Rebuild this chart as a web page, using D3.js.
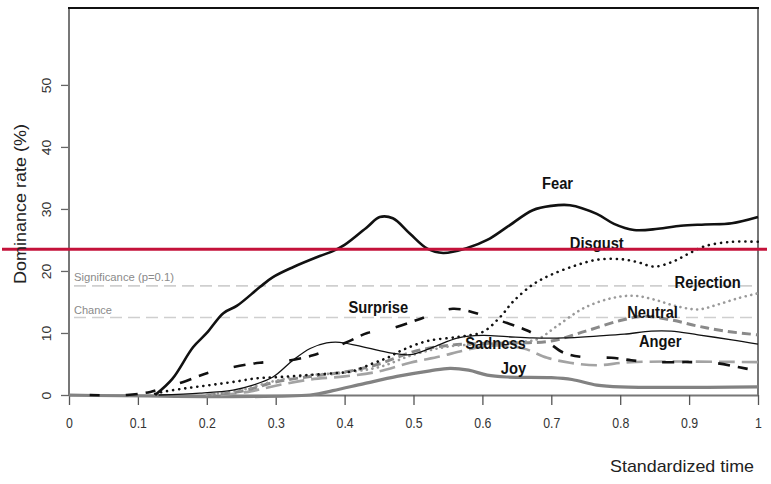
<!DOCTYPE html>
<html>
<head>
<meta charset="utf-8">
<script src="https://cdn.jsdelivr.net/npm/d3@7/dist/d3.min.js"></script>
<style>
  body { margin: 0; background: #fff; }
  svg { display: block; }
  text { font-family: "Liberation Sans", Arial, sans-serif; }
</style>
</head>
<body>
<svg id="chart" width="771" height="484"></svg>
<script>
// values: [standardized time, dominance rate %]
const fear = [[0.125,0],[0.15,2.6],[0.18,7.7],[0.2,10],[0.224,13.2],[0.244,14.4],[0.277,17.4],[0.296,19],[0.325,20.6],[0.364,22.4],[0.383,23.2],[0.4,24.2],[0.433,27.1],[0.451,28.7],[0.47,28.5],[0.495,26],[0.52,23.6],[0.543,22.9],[0.578,23.7],[0.607,25],[0.636,27.1],[0.673,29.8],[0.7,30.5],[0.727,30.6],[0.766,29.2],[0.791,27.6],[0.82,26.6],[0.855,26.8],[0.888,27.3],[0.923,27.5],[0.962,27.7],[1,28.7]];
const disgust = [[0.125,0.2],[0.136,0.5],[0.171,1.1],[0.205,1.6],[0.238,2.1],[0.273,2.7],[0.306,2.9],[0.345,3.2],[0.383,3.5],[0.41,3.8],[0.441,5.1],[0.462,6],[0.485,7.3],[0.52,8.7],[0.567,9.4],[0.601,10.2],[0.626,12.6],[0.644,15],[0.673,17.8],[0.698,19.3],[0.733,20.8],[0.766,21.8],[0.801,21.9],[0.826,21.4],[0.849,20.7],[0.874,21.4],[0.898,22.7],[0.923,24],[0.962,24.7],[1,24.7]];
const surprise = [[0.03,0],[0.084,0],[0.118,0.5],[0.142,1.3],[0.166,2.1],[0.2,3.5],[0.238,4.5],[0.277,5.2],[0.316,5.5],[0.354,6.4],[0.383,7.6],[0.405,8.6],[0.433,10],[0.47,10.8],[0.505,12.1],[0.538,13.4],[0.557,13.9],[0.578,13.6],[0.607,12.6],[0.636,11.6],[0.665,10.4],[0.694,8.6],[0.718,6.8],[0.747,6.1],[0.787,6],[0.816,5.6],[0.845,5.3],[0.903,5.3],[0.942,5.1],[0.971,4.5],[1,3.9]];
const anger = [[0.13,0],[0.19,0.3],[0.238,0.8],[0.267,1.6],[0.296,2.9],[0.325,5.6],[0.35,7.5],[0.374,8.4],[0.393,8.5],[0.433,7.6],[0.466,6.8],[0.495,6.5],[0.526,7.6],[0.565,9.2],[0.6,9.6],[0.636,9.4],[0.673,9.2],[0.718,9.2],[0.766,9.5],[0.806,9.8],[0.845,10.3],[0.874,10.3],[0.913,9.7],[0.962,8.9],[1,8.2]];
const joy = [[0,0],[0.35,0],[0.383,0.7],[0.427,1.8],[0.476,3],[0.524,3.9],[0.553,4.3],[0.58,4],[0.607,3.2],[0.636,2.9],[0.7,2.8],[0.73,2.5],[0.766,1.6],[0.8,1.3],[1,1.3]];
const neutral = [[0.2,0],[0.25,0.6],[0.3,2.1],[0.35,3],[0.4,3.7],[0.45,5],[0.5,7],[0.55,8],[0.6,8.3],[0.65,8.4],[0.7,8.7],[0.75,10.3],[0.8,12],[0.835,12.7],[0.874,12.1],[0.913,11.1],[0.952,10.3],[1,9.7]];
const rejection = [[0.2,0],[0.25,0.8],[0.3,2.3],[0.35,3.2],[0.4,3.6],[0.45,4.5],[0.5,6.5],[0.55,7.8],[0.6,8.2],[0.65,8.5],[0.68,9],[0.708,11.1],[0.747,14],[0.787,15.6],[0.82,16],[0.849,15.4],[0.879,14.4],[0.913,13.8],[0.942,14.6],[0.971,15.6],[1,16.4]];
const sadness = [[0.22,0],[0.26,0.5],[0.3,1.5],[0.35,2.5],[0.4,3],[0.45,3.8],[0.495,5.2],[0.538,6.2],[0.57,7.1],[0.6,7.8],[0.626,8],[0.66,7.5],[0.694,6],[0.727,5.2],[0.766,4.8],[0.816,5.3],[1,5.3]];

const xTicks = [0, 0.1, 0.2, 0.3, 0.4, 0.5, 0.6, 0.7, 0.8, 0.9, 1];
const xTickLabels = ["0", "0.1", "0.2", "0.3", "0.4", "0.5", "0.6", "0.7", "0.8", "0.9", "1"];
const yTicks = [0, 10, 20, 30, 40, 50];

const threshold = 23.5;     // red line
const significance = 17.6;  // p = 0.1
const chance = 12.5;

const svg = d3.select("#chart");

const x = d3.scaleLinear().domain([0, 1]).range([69, 758]);
const y = d3.scaleLinear().domain([0, 62.4]).range([395, 8]);

// reference lines
svg.selectAll("line.ref")
    .data([significance, chance])
    .enter().append("line")
    .attr("class", "ref")
    .attr("x1", 74).attr("x2", 757)
    .attr("y1", d => y(d)).attr("y2", d => y(d))
    .attr("stroke", "#cfcfcf")
    .attr("stroke-width", 1.6)
    .attr("stroke-dasharray", "12,6");

svg.append("text")
    .attr("x", 74).attr("y", 281)
    .attr("font-family", "'Open Sans', sans-serif")
    .attr("font-size", 10.5)
    .attr("fill", "#8a8a8a")
    .attr("textLength", 100).attr("lengthAdjust", "spacingAndGlyphs")
    .text("Significance (p=0.1)");

svg.append("text")
    .attr("x", 74).attr("y", 314)
    .attr("font-family", "'Open Sans', sans-serif")
    .attr("font-size", 10.5)
    .attr("fill", "#8a8a8a")
    .attr("textLength", 38).attr("lengthAdjust", "spacingAndGlyphs")
    .text("Chance");

// axes
const xAxis = svg.append("g")
    .attr("transform", "translate(0,395)")
    .call(d3.axisBottom(x).tickValues(xTicks).tickSize(10).tickSizeOuter(0)
        .tickFormat((d, i) => xTickLabels[i]));
xAxis.select(".domain").attr("stroke", "#777").attr("stroke-width", 2);
xAxis.selectAll(".tick line").attr("stroke", "#555").attr("stroke-width", 1.3);
xAxis.selectAll(".tick text")
    .attr("y", null).attr("dy", null)
    .attr("transform", "translate(0,33) scale(0.88,1)")
    .attr("font-size", 14)
    .attr("font-family", "'Liberation Sans', Arial, sans-serif")
    .attr("fill", "#333");

const yAxis = svg.append("g")
    .attr("transform", "translate(69,0)")
    .call(d3.axisLeft(y).tickValues(yTicks).tickSize(8).tickSizeOuter(0));
yAxis.select(".domain").remove();
yAxis.selectAll(".tick line").attr("stroke", "#666").attr("stroke-width", 1.3);
yAxis.selectAll(".tick text")
    .attr("x", null).attr("dy", null)
    .attr("text-anchor", "middle")
    .attr("transform", "translate(-18,0) rotate(-90) scale(1,0.88)")
    .attr("font-size", 14)
    .attr("font-family", "'Liberation Sans', Arial, sans-serif")
    .attr("fill", "#333");

// plot frame
svg.append("line").attr("x1", 69).attr("x2", 69).attr("y1", 8).attr("y2", 395)
    .attr("stroke", "#777").attr("stroke-width", 2);
svg.append("line").attr("x1", 758).attr("x2", 758).attr("y1", 8).attr("y2", 395)
    .attr("stroke", "#777").attr("stroke-width", 2);
svg.append("line").attr("x1", 68).attr("x2", 759).attr("y1", 8).attr("y2", 8)
    .attr("stroke", "#111").attr("stroke-width", 2);

// series
const series = [
    {name: "Joy", data: joy, color: "#828282", width: 3.2, dash: null},
    {name: "Sadness", data: sadness, color: "#a3a3a3", width: 2.6, dash: "16,7"},
    {name: "Neutral", data: neutral, color: "#8a8a8a", width: 3, dash: "9,5"},
    {name: "Rejection", data: rejection, color: "#9a9a9a", width: 2.6, dash: "0.1,5.5", cap: "round"},
    {name: "Anger", data: anger, color: "#111", width: 1.3, dash: null},
    {name: "Surprise", data: surprise, color: "#111", width: 2.6, dash: "10,26,12,8"},
    {name: "Disgust", data: disgust, color: "#111", width: 2.6, dash: "0.1,6", cap: "round"},
    {name: "Fear", data: fear, color: "#111", width: 2.6, dash: null}
];

const line = d3.line()
    .x(d => x(d[0]))
    .y(d => y(d[1]))
    .curve(d3.curveCatmullRom.alpha(0.5));

svg.append("g").selectAll("path")
    .data(series)
    .enter().append("path")
    .attr("fill", "none")
    .attr("stroke", d => d.color)
    .attr("stroke-width", d => d.width)
    .attr("stroke-dasharray", d => d.dash)
    .attr("stroke-linecap", d => d.cap || "butt")
    .attr("stroke-linejoin", "round")
    .attr("d", d => line(d.data));

// curve labels (centre positions)
const labels = [
    {text: "Fear", t: 0.709, v: 34.2},
    {text: "Disgust", t: 0.766, v: 24.5},
    {text: "Rejection", t: 0.927, v: 18.2},
    {text: "Surprise", t: 0.449, v: 14.2},
    {text: "Neutral", t: 0.847, v: 13.3},
    {text: "Sadness", t: 0.619, v: 8.4},
    {text: "Anger", t: 0.858, v: 8.6},
    {text: "Joy", t: 0.645, v: 4.3}
];

svg.append("g").selectAll("text")
    .data(labels)
    .enter().append("text")
    .attr("transform", d => "translate(" + x(d.t) + "," + y(d.v) + ") scale(0.92,1)")
    .attr("text-anchor", "middle")
    .attr("dy", "0.36em")
    .attr("font-size", 16)
    .attr("font-weight", "bold")
    .attr("fill", "#111")
    .text(d => d.text);

// red threshold line, drawn across the whole figure
svg.append("line")
    .attr("x1", 2).attr("x2", 767)
    .attr("y1", y(threshold)).attr("y2", y(threshold))
    .attr("stroke", "#c4123a")
    .attr("stroke-width", 3);

// axis titles
svg.append("text")
    .attr("transform", "translate(26,204) rotate(-90) scale(1,0.9)")
    .attr("text-anchor", "middle")
    .attr("font-size", 18)
    .attr("fill", "#222")
    .text("Dominance rate (%)");

svg.append("text")
    .attr("x", 754).attr("y", 472)
    .attr("text-anchor", "end")
    .attr("font-size", 17)
    .attr("fill", "#222")
    .attr("textLength", 144).attr("lengthAdjust", "spacingAndGlyphs")
    .text("Standardized time");
</script>
</body>
</html>
